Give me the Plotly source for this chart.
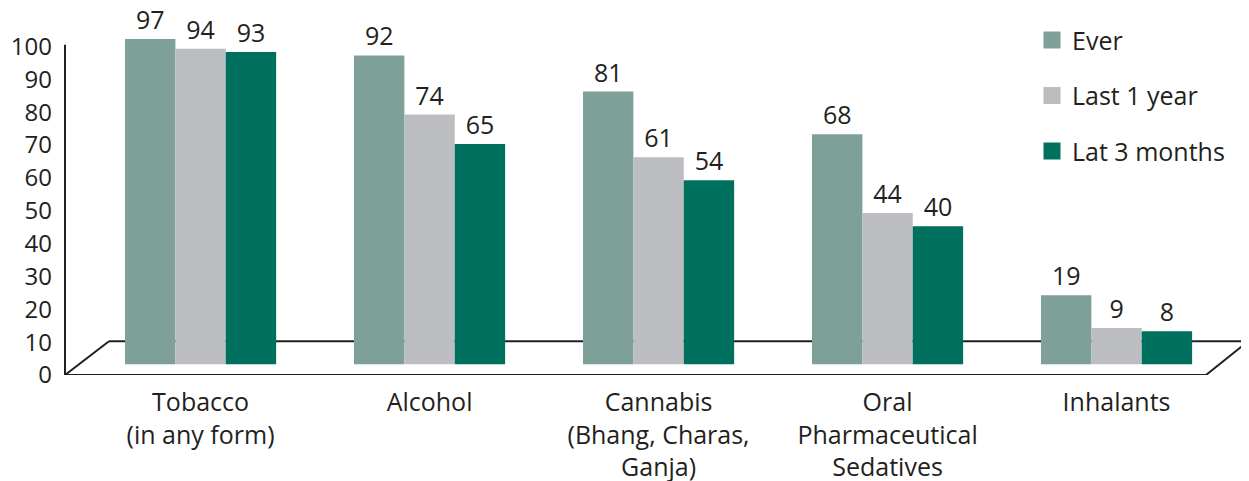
import plotly.graph_objects as go

categories = [
    "Tobacco<br>(in any form)",
    "Alcohol",
    "Cannabis<br>(Bhang, Charas,<br>Ganja)",
    "Oral<br>Pharmaceutical<br>Sedatives",
    "Inhalants",
]
series_names = ["Ever", "Last 1 year", "Lat 3 months"]
ever = [97, 92, 81, 68, 19]
last_year = [94, 74, 61, 44, 9]
last_3_months = [93, 65, 54, 40, 8]
y_ticks = [0, 10, 20, 30, 40, 50, 60, 70, 80, 90, 100]

colors = ["#7f9f99", "#bcbdc1", "#00705e"]
text_color = "#231f20"
font_family = "Open Sans, Noto Sans, sans-serif"

# effet 3D : les barres commencent un peu sous le zéro de leur axe
FLOOR_DEPTH = 2.0
PX_PER_UNIT = 3.285
PLOT_H = 365.0
PLOT_W = 1183.0

fig = go.Figure()
for i, (name, vals) in enumerate(zip(series_names, [ever, last_year, last_3_months])):
    fig.add_trace(go.Bar(
        x=categories,
        y=[v + FLOOR_DEPTH for v in vals],
        base=-FLOOR_DEPTH,
        name=name,
        showlegend=False,
        marker=dict(color=colors[i], line=dict(width=0)),
        text=[str(v) for v in vals],
        textposition="outside",
        textfont=dict(size=25, color=text_color, family=font_family),
        cliponaxis=False,
        yaxis="y2",
    ))
    # trace fantôme pour la légende (carrés plus grands)
    fig.add_trace(go.Bar(
        x=[categories[0]],
        y=[None],
        name=name,
        legendgroup=name,
        marker=dict(color=colors[i], line=dict(width=5, color=colors[i])),
        xaxis="x2",
        yaxis="y3",
        hoverinfo="skip",
    ))

shift = 17.4 / PX_PER_UNIT
fig.update_layout(
    width=1241,
    height=473,
    margin=dict(l=57, r=1, t=2, b=106, autoexpand=False),
    plot_bgcolor="white",
    paper_bgcolor="white",
    font=dict(family=font_family, size=25, color=text_color),
    barmode="group",
    bargap=0.34,
    bargroupgap=0,
    xaxis=dict(
        range=[-0.592, 4.574],
        showline=False,
        showgrid=False,
        zeroline=False,
        ticks="",
        tickangle=0,
        automargin=False,
        ticklabelstandoff=10,
        tickfont=dict(size=25),
    ),
    xaxis2=dict(overlaying="x", visible=False, range=[5, 6]),
    yaxis=dict(
        range=[0, PLOT_H / PX_PER_UNIT],
        tickvals=y_ticks,
        showgrid=False,
        zeroline=False,
        showline=False,
        ticks="",
        automargin=False,
        ticklabelstandoff=12,
        tickfont=dict(size=24),
    ),
    yaxis2=dict(
        range=[-shift, PLOT_H / PX_PER_UNIT - shift],
        overlaying="y",
        visible=False,
    ),
    yaxis3=dict(overlaying="y", visible=False, range=[0, 1]),
    legend=dict(
        x=(1032 - 8 - 57) / PLOT_W,
        y=0.98,
        xanchor="left",
        yanchor="top",
        tracegroupgap=20,
        font=dict(size=25),
        bgcolor="rgba(0,0,0,0)",
    ),
    showlegend=True,
)

line = dict(color=text_color, width=2)
x_back = 44 / PLOT_W
x_front_end = 1141 / PLOT_W
y_back = 33.7 / PX_PER_UNIT
shapes = [
    dict(type="line", xref="paper", yref="y", x0=0, x1=0, y0=0, y1=100.5, line=line),
    dict(type="line", xref="paper", yref="y", x0=0, x1=x_front_end, y0=0, y1=0, line=line),
    dict(type="line", xref="paper", yref="y", x0=x_front_end, x1=1, y0=0, y1=y_back, line=line),
    dict(type="line", xref="paper", yref="y", x0=0, x1=x_back, y0=0, y1=y_back, line=line),
    dict(type="line", xref="paper", yref="y", x0=x_back, x1=1, y0=y_back, y1=y_back,
         line=line, layer="below"),
]
fig.update_layout(shapes=shapes)

fig.write_html("out.html")
